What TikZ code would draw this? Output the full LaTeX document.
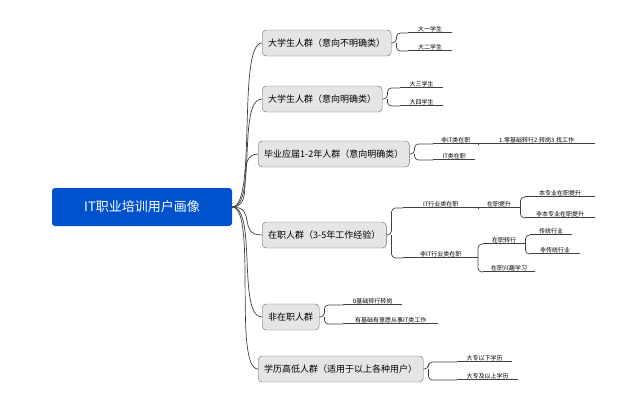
\documentclass[tikz,border=0pt]{standalone}
\usepackage{fontspec}
\setmainfont{Noto Sans CJK SC}
\begin{document}
\begin{tikzpicture}[x=1pt,y=-1pt,
    line/.style={draw=black!75,line width=0.7pt},
    root/.style={fill=blue!60!cyan!80!black,text=white,rounded corners=3pt,minimum width=180pt,minimum height=38pt,font=\fontsize{13}{15}\selectfont},
    topic/.style={draw=black!60,fill=black!10,rounded corners=4pt,minimum height=26pt,inner xsep=6pt,font=\fontsize{9}{11}\selectfont,anchor=west},
    leaf/.style={anchor=south west,inner sep=1pt,font=\fontsize{6}{7}\selectfont,path picture={\draw[line] (path picture bounding box.south west) -- (path picture bounding box.south east);}},
    brace/.style={line,rounded corners=4pt}]
    \useasboundingbox (0,0) rectangle (640,410);
    % root
    \node[root] (user) at (142,207) {IT职业培训用户画像};
    % topics
    \node[topic] (t1) at (262,43) {大学生人群（意向不明确类）};
    \node[topic] (t2) at (262,99) {大学生人群（意向明确类）};
    \node[topic] (t3) at (258,154) {毕业应届1-2年人群（意向明确类）};
    \node[topic] (t4) at (262,235) {在职人群（3-5年工作经验）};
    \node[topic] (t5) at (262,317) {非在职人群};
    \node[topic] (t6) at (258,369) {学历高低人群（适用于以上各种用户）};
    \foreach \t in {t1,t2,t3,t4,t5,t6}
        \draw[line] (user.east) .. controls +(25,0) and +(-25,0) .. (\t.west);
    % leaves
    \node[leaf,minimum width=44pt] (a1) at (408,33) {大一学生};
    \node[leaf,minimum width=44pt] (a2) at (408,51) {大二学生};
    \node[leaf,minimum width=43pt] (b1) at (400,88) {大三学生};
    \node[leaf,minimum width=43pt] (b2) at (400,106) {大四学生};
    \node[leaf,minimum width=45pt] (c1) at (433,144) {非IT类在职};
    \node[leaf,minimum width=117pt] (c11) at (478,144) {1.零基础转行2.转岗3.找工作};
    \node[leaf,minimum width=42pt] (c2) at (433,160) {IT类在职};
    \node[leaf,minimum width=75pt] (d1) at (403,208) {IT行业类在职};
    \node[leaf,minimum width=42pt] (d11) at (478,208) {在职提升};
    \node[leaf,minimum width=70pt] (d111) at (525,197) {本专业在职提升};
    \node[leaf,minimum width=70pt] (d112) at (525,218) {非本专业在职提升};
    \node[leaf,minimum width=75pt] (d2) at (403,258) {非IT行业类在职};
    \node[leaf,minimum width=42pt] (d21) at (483,244) {在职转行};
    \node[leaf,minimum width=42pt] (d211) at (530,235) {传统行业};
    \node[leaf,minimum width=50pt] (d212) at (530,254) {非传统行业};
    \node[leaf,minimum width=52pt] (d22) at (483,272) {在职兴趣学习};
    \node[leaf,minimum width=59pt] (e1) at (343,305) {0基础转行转岗};
    \node[leaf,minimum width=95pt] (e2) at (343,324) {有基础有意愿从事IT类工作};
    \node[leaf,minimum width=55pt] (f1) at (457,362) {大专以下学历};
    \node[leaf,minimum width=61pt] (f2) at (457,380) {大专及以上学历};
    % brackets
    \foreach \p/\a/\b in {t1/a1/a2,t2/b1/b2,t3/c1/c2,t4/d1/d2,t5/e1/e2,t6/f1/f2}{
        \draw[brace] (\p.east) -- ++(5,0) coordinate (m) |- (\a.south west);
        \draw[brace] (m) |- (\b.south west);
    }
    \draw[line] (c1.south east) -- (c11.south west);
    \draw[line] (d1.south east) -- (d11.south west);
    \draw[brace] (d11.south east) -- ++(0,0) |- (d111.south west);
    \draw[brace] (d11.south east) |- (d112.south west);
    \draw[brace] (d2.south west) ++(75,0) coordinate (n) |- (d21.south west);
    \draw[brace] (n) |- (d22.south west);
    \draw[brace] (d21.south east) |- (d211.south west);
    \draw[brace] (d21.south east) |- (d212.south west);
\end{tikzpicture}
\end{document}
